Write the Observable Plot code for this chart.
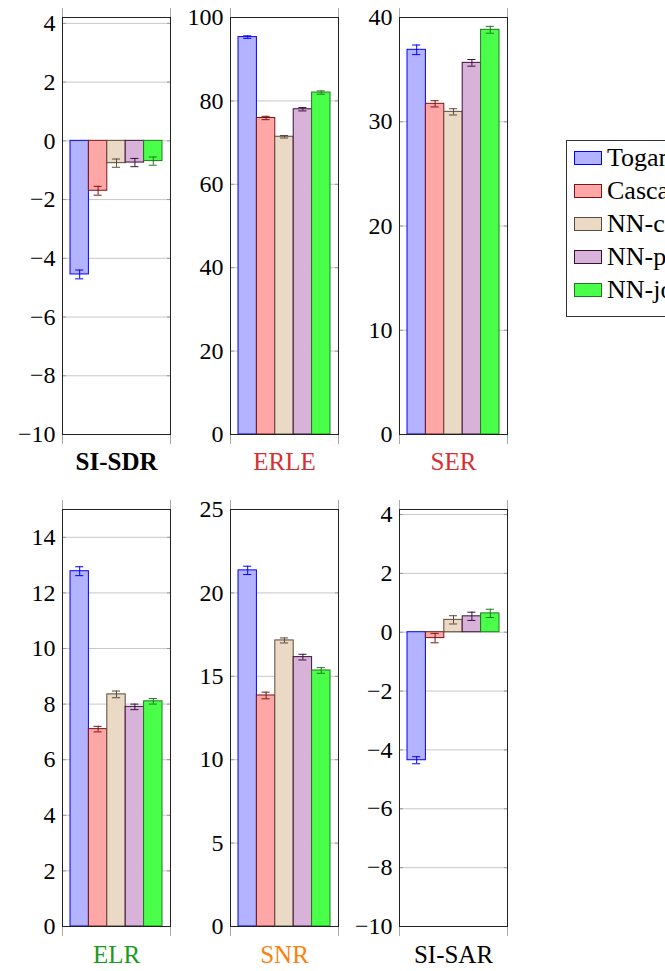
<!DOCTYPE html>
<html><head><meta charset="utf-8">
<script src="https://cdn.jsdelivr.net/npm/d3@7"></script>
<script src="https://cdn.jsdelivr.net/npm/@observablehq/plot@0.6"></script>
<style>
body{margin:0;background:#fff;}
#root{position:relative;width:665px;height:971px;overflow:hidden;font-family:"Liberation Serif","DejaVu Serif",serif;}
.panel{position:absolute;}
.panel text{font-family:"Liberation Serif","DejaVu Serif",serif;}
#legend{position:absolute;left:566px;top:140px;width:140px;height:177px;border:1px solid #333;background:#fff;box-sizing:border-box;}
.li{position:absolute;left:7px;height:26px;display:flex;align-items:center;font-size:26px;white-space:nowrap;}
.sw{width:26px;height:12px;margin-right:5px;border:1px solid;flex:none;}
</style></head>
<body><div id="root"><div id="legend"></div></div>
<script>
const methods = ["Togami", "Cascade", "NN-cascade", "NN-parallel", "NN-joint"];
const fills = ["#b3b3ff", "#ffa6a6", "#ead9c4", "#d8b2d8", "#4aff4a"];
const strokes = ["#0000ff", "#7a1515", "#5a4a3a", "#3a103a", "#1f7a1f"];

const metrics = ["SI-SDR", "ERLE", "SER", "ELR", "SNR", "SI-SAR"];
const metricColors = ["#000000", "#d62f2f", "#d62f2f", "#1a9a1a", "#ff7f0e", "#000000"];
const metricWeights = ["bold", "normal", "normal", "normal", "normal", "normal"];

const siSdr = [-4.55, -1.70, -0.76, -0.74, -0.69];
const siSdrErr = [0.15, 0.15, 0.14, 0.14, 0.14];
const erle = [95.3, 75.9, 71.4, 78.0, 82.0];
const erleErr = [0.3, 0.4, 0.3, 0.4, 0.4];
const ser = [36.9, 31.72, 30.95, 35.65, 38.82];
const serErr = [0.46, 0.3, 0.3, 0.32, 0.33];
const elr = [12.78, 7.1, 8.35, 7.9, 8.1];
const elrErr = [0.16, 0.1, 0.12, 0.1, 0.1];
const snr = [21.35, 13.85, 17.15, 16.15, 15.35];
const snrErr = [0.25, 0.2, 0.15, 0.17, 0.17];
const siSar = [-4.35, -0.2, 0.42, 0.54, 0.64];
const siSarErr = [0.12, 0.16, 0.14, 0.14, 0.14];

const values = [siSdr, erle, ser, elr, snr, siSar];
const errors = [siSdrErr, erleErr, serErr, elrErr, snrErr, siSarErr];
const yDomains = [[-10, 4.2], [0, 100], [0, 40], [0, 15], [0, 25], [-10, 4.17]];
const yTicks = [
  [-10, -8, -6, -4, -2, 0, 2, 4],
  [0, 20, 40, 60, 80, 100],
  [0, 10, 20, 30, 40],
  [0, 2, 4, 6, 8, 10, 12, 14],
  [0, 5, 10, 15, 20, 25],
  [-10, -8, -6, -4, -2, 0, 2, 4]
];

// layout
const frameLefts = [62, 230, 399, 62, 230, 399];
const frameTops = [17, 17, 17, 509, 509, 509];
const FW = 108, FH = 417;
const ML = 62, MR = 10, MT = 12, MB = 50;
const xDomain = [-0.935, 4.935];
const fmt = d => d < 0 ? "\u2212" + Math.abs(d) : String(d);
const serif = '"Liberation Serif", "DejaVu Serif", serif';

const root = document.getElementById("root");
metrics.forEach((name, i) => {
  const data = methods.map((m, j) => ({m, j, v: values[i][j], e: errors[i][j]}));
  const chart = Plot.plot({
    width: ML + FW + MR, height: MT + FH + MB,
    marginLeft: ML, marginRight: MR, marginTop: MT, marginBottom: MB,
    style: {fontFamily: serif, fontSize: "24px", background: "transparent", overflow: "visible", color: "#000"},
    x: {domain: xDomain, axis: null},
    y: {domain: yDomains[i], axis: null},
    marks: [
      Plot.ruleY(yTicks[i], {stroke: "#c8c8c8", strokeWidth: 1}),
      Plot.axisY(yTicks[i], {anchor: "left", tickSize: -4, tickFormat: () => "", stroke: "#999", label: null}),
      Plot.axisY(yTicks[i], {anchor: "right", tickSize: -4, tickFormat: () => "", stroke: "#999", label: null}),
      Plot.axisY(yTicks[i], {anchor: "left", tickSize: 0, tickPadding: 7, tickFormat: fmt, fontSize: 24, fill: "#000", label: null, fontFamily: serif}),
      Plot.axisX([xDomain[0], xDomain[1]], {anchor: "bottom", tickSize: 10, tickFormat: () => "", stroke: "#aaa", label: null}),
      Plot.axisX([xDomain[0], xDomain[1]], {anchor: "top", tickSize: 10, tickFormat: () => "", stroke: "#aaa", label: null}),
      Plot.rectY(data, {x1: d => d.j - 0.5, x2: d => d.j + 0.5, y1: 0, y2: "v",
        fill: d => fills[d.j], stroke: d => strokes[d.j], strokeWidth: 1}),
      Plot.ruleX(data, {x: "j", y1: d => d.v - d.e, y2: d => d.v + d.e, stroke: d => strokes[d.j]}),
      Plot.ruleY(data, {y: d => d.v - d.e, x1: d => d.j - 0.22, x2: d => d.j + 0.22, stroke: d => strokes[d.j]}),
      Plot.ruleY(data, {y: d => d.v + d.e, x1: d => d.j - 0.22, x2: d => d.j + 0.22, stroke: d => strokes[d.j]}),
      Plot.frame({stroke: "#222", strokeWidth: 1}),
      Plot.text([name], {frameAnchor: "bottom", dy: i < 3 ? 27 : 28, fill: metricColors[i],
        fontWeight: metricWeights[i], fontSize: 25, lineAnchor: "middle", fontFamily: serif})
    ]
  });
  chart.classList.add("panel");
  chart.style.left = (frameLefts[i] - ML) + "px";
  chart.style.top = (frameTops[i] - MT) + "px";
  root.appendChild(chart);
});

const legend = document.getElementById("legend");
methods.forEach((m, j) => {
  const row = document.createElement("div");
  row.className = "li";
  row.style.top = (4 + j * 33) + "px";
  const sw = document.createElement("div");
  sw.className = "sw";
  sw.style.background = fills[j];
  sw.style.borderColor = strokes[j];
  row.appendChild(sw);
  row.appendChild(document.createTextNode(m));
  legend.appendChild(row);
});
</script></body></html>
